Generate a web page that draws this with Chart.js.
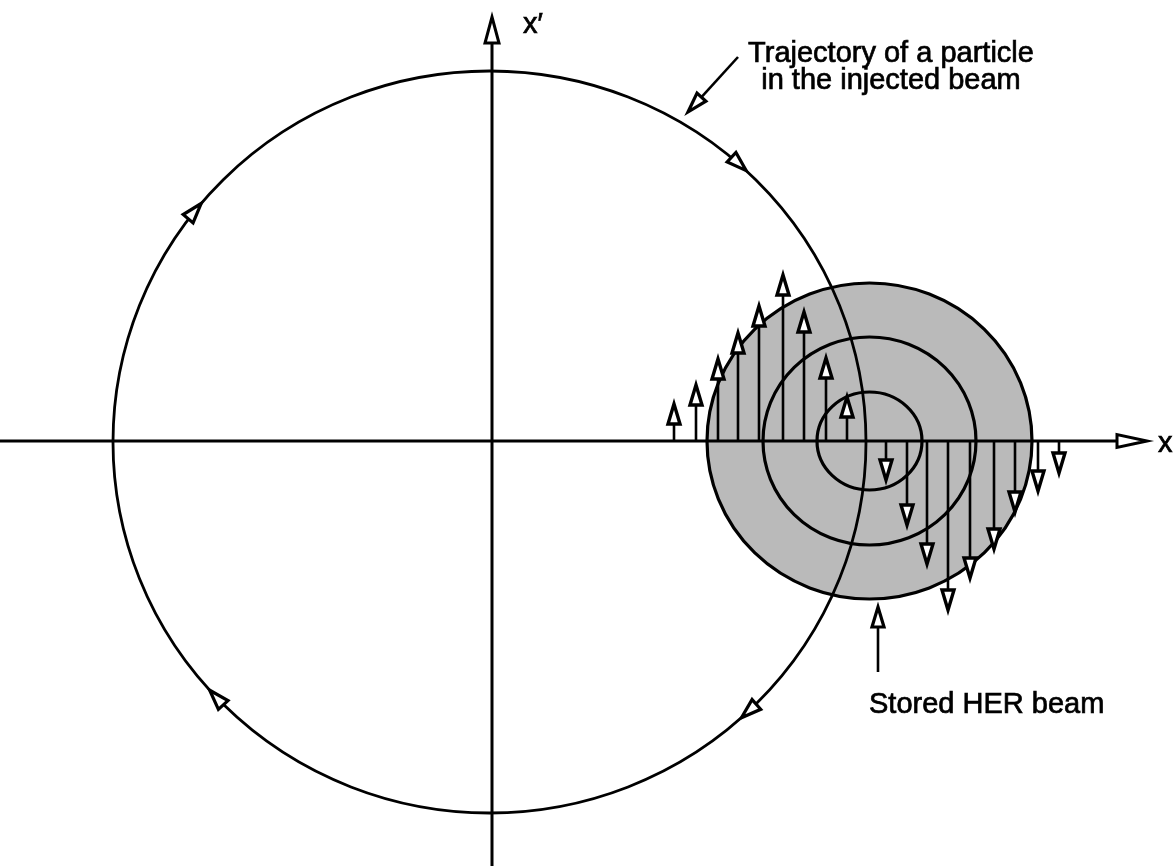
<!DOCTYPE html>
<html>
<head>
<meta charset="utf-8">
<script src="https://cdn.jsdelivr.net/npm/chart.js@4.4.1/dist/chart.umd.min.js"></script>
<style>
  html, body { margin: 0; padding: 0; background: #ffffff; }
  #wrap { width: 1175px; height: 866px; }
</style>
</head>
<body>
<div id="wrap"><canvas id="c" width="1175" height="866"></canvas></div>
<script>
// ---- data (phase-space units) ----
const xRange = [-4.92, 6.83];
const yRange = [-4.25, 4.41];

// trajectory ellipse of injected particle: [cx, cy, rx, ry]
const trajectory = [-0.025, -0.01, 3.765, 3.71];
// direction marks along the trajectory (angle in degrees, clockwise motion)
const trajectoryArrowAngles = [47, 140, 222, 312];

// stored beam: centre and ring radii [rx, ry]
const beamCentre = [3.775, 0];
const beamRingsRx = [0.525, 1.065, 1.625];
const beamRingsRy = [0.49, 1.04, 1.58];

// beam-beam kicks: position x and kick tip x'
const kickX = [1.82, 2.04, 2.26, 2.46, 2.67, 2.91, 3.12, 3.34, 3.55,
               3.94, 4.15, 4.35, 4.56, 4.78, 5.02, 5.23, 5.46, 5.67];
const kickY = [0.37, 0.56, 0.82, 1.08, 1.35, 1.66, 1.29, 0.83, 0.44,
               -0.39, -0.84, -1.23, -1.69, -1.37, -1.08, -0.71, -0.50, -0.32];

// axis ends
const xAxisEnd = 6.55;
const yAxisEnd = 4.24;

// labels
const axisLabels = [
  { text: 'x', x: 6.66, y: -0.11 },
  { text: 'x\u2032', x: 0.31, y: 4.08 }
];
const notes = [
  { lines: ['Trajectory of a particle', 'in the injected beam'], x: 3.99, y: [3.79, 3.52], align: 'center' },
  { lines: ['Stored HER beam'], x: 3.77, y: [-2.72], align: 'left' }
];
const pointers = [
  { from: [2.46, 3.84], to: [1.96, 3.29] },
  { from: [3.86, -2.31], to: [3.86, -1.66] }
];

const kickPoints = kickX.map((x, i) => ({ x: x, y: kickY[i] }));

function head(ctx, tx, ty, dx, dy, L, W, lw) {
  const n = Math.hypot(dx, dy); dx /= n; dy /= n;
  const bx = tx - dx * L, by = ty - dy * L;
  const nx = -dy, ny = dx;
  ctx.beginPath();
  ctx.moveTo(tx, ty);
  ctx.lineTo(bx + nx * W, by + ny * W);
  ctx.lineTo(bx - nx * W, by - ny * W);
  ctx.closePath();
  ctx.fillStyle = '#ffffff';
  ctx.fill();
  ctx.lineWidth = lw;
  ctx.lineJoin = 'miter';
  ctx.strokeStyle = '#000000';
  ctx.stroke();
  return [bx, by];
}

const diagram = {
  id: 'diagram',
  beforeDraw(chart) {
    const ctx = chart.ctx;
    ctx.save();
    ctx.fillStyle = '#ffffff';
    ctx.fillRect(0, 0, chart.width, chart.height);
    ctx.restore();
  },
  afterDatasetsDraw(chart) {
    const ctx = chart.ctx;
    const X = chart.scales.x, Y = chart.scales.y;
    const px = v => X.getPixelForValue(v);
    const py = v => Y.getPixelForValue(v);
    const sx = r => Math.abs(X.getPixelForValue(r) - X.getPixelForValue(0));
    const sy = r => Math.abs(Y.getPixelForValue(r) - Y.getPixelForValue(0));
    ctx.save();
    ctx.strokeStyle = '#000';
    ctx.lineCap = 'butt';

    // stored beam (shaded disk)
    const bcx = px(beamCentre[0]), bcy = py(beamCentre[1]);
    const last = beamRingsRx.length - 1;
    ctx.beginPath();
    ctx.ellipse(bcx, bcy, sx(beamRingsRx[last]), sy(beamRingsRy[last]), 0, 0, Math.PI * 2);
    ctx.fillStyle = '#bababa';
    ctx.fill();

    // axes
    ctx.lineWidth = 3;
    const ox = px(0), oy = py(0);
    const xt = px(xAxisEnd);
    ctx.beginPath();
    ctx.moveTo(px(xRange[0]), oy);
    ctx.lineTo(xt - 30, oy);
    ctx.stroke();
    head(ctx, xt, oy, 1, 0, 30, 6.5, 3);
    const yt = py(yAxisEnd);
    ctx.beginPath();
    ctx.moveTo(ox, py(yRange[0]));
    ctx.lineTo(ox, yt + 26);
    ctx.stroke();
    head(ctx, ox, yt, 0, -1, 26, 7, 3);

    // rings
    ctx.lineWidth = 3.2;
    for (let i = 0; i < beamRingsRx.length; i++) {
      ctx.beginPath();
      ctx.ellipse(bcx, bcy, sx(beamRingsRx[i]), sy(beamRingsRy[i]), 0, 0, Math.PI * 2);
      ctx.stroke();
    }

    // trajectory
    const tcx = px(trajectory[0]), tcy = py(trajectory[1]);
    const trx = sx(trajectory[2]), try_ = sy(trajectory[3]);
    ctx.lineWidth = 2.8;
    ctx.beginPath();
    ctx.ellipse(tcx, tcy, trx, try_, 0, 0, Math.PI * 2);
    ctx.stroke();
    trajectoryArrowAngles.forEach(a => {
      const t = a * Math.PI / 180;
      const tx = tcx + trx * Math.cos(t), ty = tcy - try_ * Math.sin(t);
      head(ctx, tx, ty, trx * Math.sin(t), try_ * Math.cos(t), 20, 6.5, 3.2);
    });

    // kicks (from the dataset's own elements)
    const meta = chart.getDatasetMeta(0);
    meta.data.forEach((pt) => {
      const x0 = pt.x, tip = pt.y;
      const dir = tip < oy ? -1 : 1;
      ctx.lineWidth = 2.6;
      ctx.beginPath();
      ctx.moveTo(x0, oy);
      ctx.lineTo(x0, tip - dir * 18);
      ctx.stroke();
      head(ctx, x0, tip, 0, dir, 20, 6, 3.4);
    });

    // pointers
    pointers.forEach(p => {
      const fx = px(p.from[0]), fy = py(p.from[1]);
      const tx = px(p.to[0]), ty = py(p.to[1]);
      const dx = tx - fx, dy = ty - fy, n = Math.hypot(dx, dy);
      ctx.lineWidth = 2.6;
      ctx.beginPath();
      ctx.moveTo(fx, fy);
      ctx.lineTo(tx - dx / n * 18, ty - dy / n * 18);
      ctx.stroke();
      head(ctx, tx, ty, dx, dy, 20, 6, 3.2);
    });

    // text
    ctx.fillStyle = '#000';
    ctx.strokeStyle = '#000';
    ctx.lineWidth = 0.7;
    ctx.textBaseline = 'alphabetic';
    ctx.font = '29px "Liberation Sans", Arial, sans-serif';
    axisLabels.forEach(l => {
      ctx.textAlign = 'left';
      ctx.fillText(l.text, px(l.x), py(l.y));
      ctx.strokeText(l.text, px(l.x), py(l.y));
    });
    notes.forEach(nt => {
      ctx.textAlign = nt.align;
      nt.lines.forEach((s, i) => {
        ctx.fillText(s, px(nt.x), py(nt.y[i]));
        ctx.strokeText(s, px(nt.x), py(nt.y[i]));
      });
    });
    ctx.restore();
  }
};

new Chart(document.getElementById('c'), {
  type: 'scatter',
  data: {
    datasets: [{
      label: 'kicks',
      data: kickPoints,
      pointRadius: 0,
      pointHoverRadius: 0,
      showLine: false
    }]
  },
  options: {
    responsive: false,
    animation: false,
    devicePixelRatio: 1,
    layout: { padding: 0 },
    plugins: { legend: { display: false }, tooltip: { enabled: false }, title: { display: false } },
    events: [],
    scales: {
      x: { type: 'linear', min: xRange[0], max: xRange[1], display: false },
      y: { type: 'linear', min: yRange[0], max: yRange[1], display: false }
    }
  },
  plugins: [diagram]
});
</script>
</body>
</html>
